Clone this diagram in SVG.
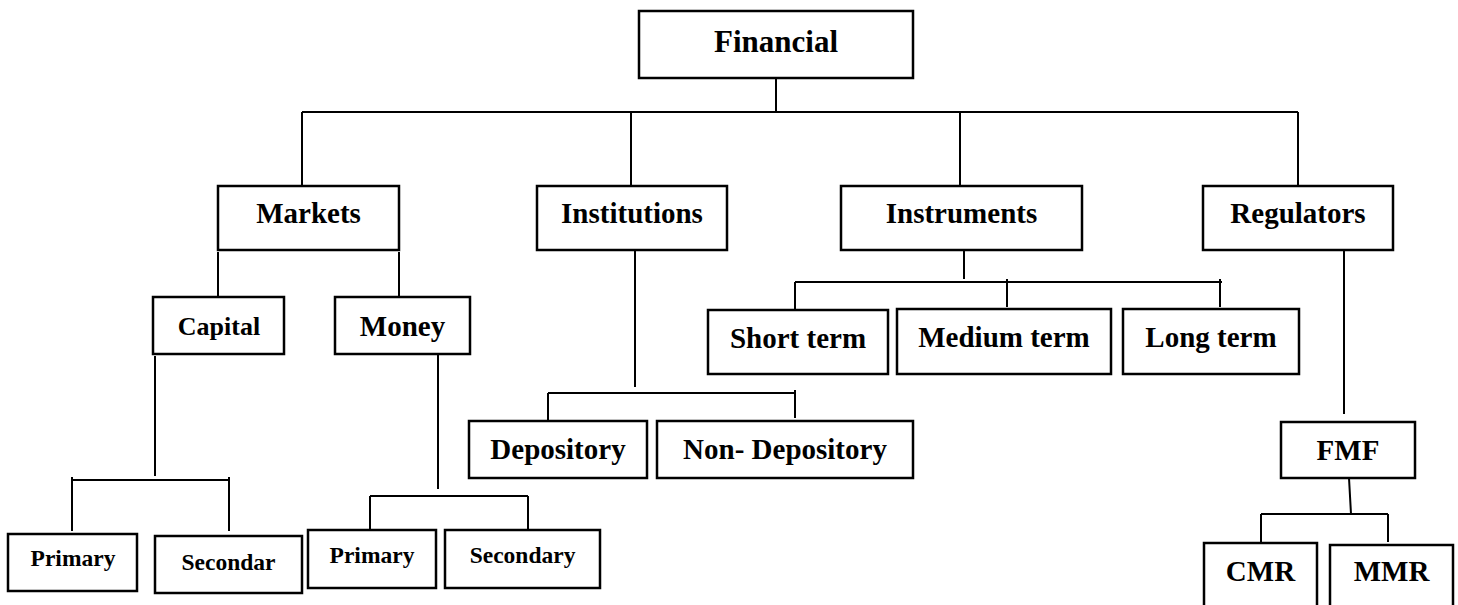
<svg xmlns="http://www.w3.org/2000/svg" width="1458" height="605" viewBox="0 0 1458 605">
<style>
.box{fill:#fff;stroke:#000;stroke-width:2.5}
.t{font-family:"Liberation Serif","Times New Roman",serif;font-weight:bold;fill:#000;text-anchor:middle}
.l{fill:none;stroke:#000;stroke-width:2}
</style>
<rect width="1458" height="605" fill="#fff"/>
<g id="connectors" class="l">
<path d="M776 78V112M302 112H1298M302 112V186M631 112V186M960 112V186M1298 112V186"/>
<path d="M218 252V297M399 252V297"/>
<path d="M155 356V476M72 480H229M72 477V531M229 477V531"/>
<path d="M438 354V489M370 496H528M370 496V530M528 496V530"/>
<path d="M635 250V387M548 393H795M548 393V421M795 390V418"/>
<path d="M964 250V279M795 282H1222M795 282V309M1007 279V307M1220 279V307"/>
<path d="M1344 250V414"/>
<path d="M1349 478L1351 514M1261 514H1388M1261 514V543M1388 514V542"/>
</g>
<g id="financial"><rect class="box" x="639" y="11" width="274" height="67"/><text class="t" x="776" y="52" font-size="31">Financial</text></g>
<g id="markets"><rect class="box" x="218" y="186" width="181" height="64"/><text class="t" x="308.5" y="223" font-size="29">Markets</text></g>
<g id="institutions"><rect class="box" x="537" y="186" width="190" height="64"/><text class="t" x="632" y="223" font-size="29">Institutions</text></g>
<g id="instruments"><rect class="box" x="841" y="186" width="241" height="64"/><text class="t" x="961.5" y="223" font-size="29">Instruments</text></g>
<g id="regulators"><rect class="box" x="1203" y="186" width="190" height="64"/><text class="t" x="1298" y="223" font-size="29">Regulators</text></g>
<g id="capital"><rect class="box" x="153" y="297" width="131" height="57"/><text class="t" x="219" y="335" font-size="26">Capital</text></g>
<g id="money"><rect class="box" x="335" y="297" width="135" height="57"/><text class="t" x="402.5" y="336" font-size="29">Money</text></g>
<g id="primary1"><rect class="box" x="8" y="534" width="129" height="57"/><text class="t" x="73" y="566" font-size="23.5">Primary</text></g>
<g id="secondar"><rect class="box" x="155" y="536" width="147" height="57"/><text class="t" x="228.5" y="570" font-size="23.5">Secondar</text></g>
<g id="primary2"><rect class="box" x="308" y="530" width="128" height="58"/><text class="t" x="372" y="563" font-size="23.5">Primary</text></g>
<g id="secondary"><rect class="box" x="445" y="530" width="155" height="58"/><text class="t" x="522.5" y="563" font-size="23.5">Secondary</text></g>
<g id="depository"><rect class="box" x="469" y="421" width="178" height="57"/><text class="t" x="558" y="459" font-size="29">Depository</text></g>
<g id="nondepository"><rect class="box" x="657" y="421" width="256" height="57"/><text class="t" x="785" y="459" font-size="29">Non- Depository</text></g>
<g id="shortterm"><rect class="box" x="708" y="310" width="180" height="64"/><text class="t" x="798" y="348" font-size="29">Short term</text></g>
<g id="mediumterm"><rect class="box" x="897" y="309" width="214" height="65"/><text class="t" x="1004" y="347" font-size="29">Medium term</text></g>
<g id="longterm"><rect class="box" x="1123" y="309" width="176" height="65"/><text class="t" x="1211" y="347" font-size="29">Long term</text></g>
<g id="fmf"><rect class="box" x="1281" y="422" width="134" height="56"/><text class="t" x="1348" y="460" font-size="29">FMF</text></g>
<g id="cmr"><rect class="box" x="1204" y="543" width="113" height="70"/><text class="t" x="1260.5" y="581" font-size="29">CMR</text></g>
<g id="mmr"><rect class="box" x="1330" y="545" width="123" height="70"/><text class="t" x="1391.5" y="581" font-size="29">MMR</text></g>
</svg>
